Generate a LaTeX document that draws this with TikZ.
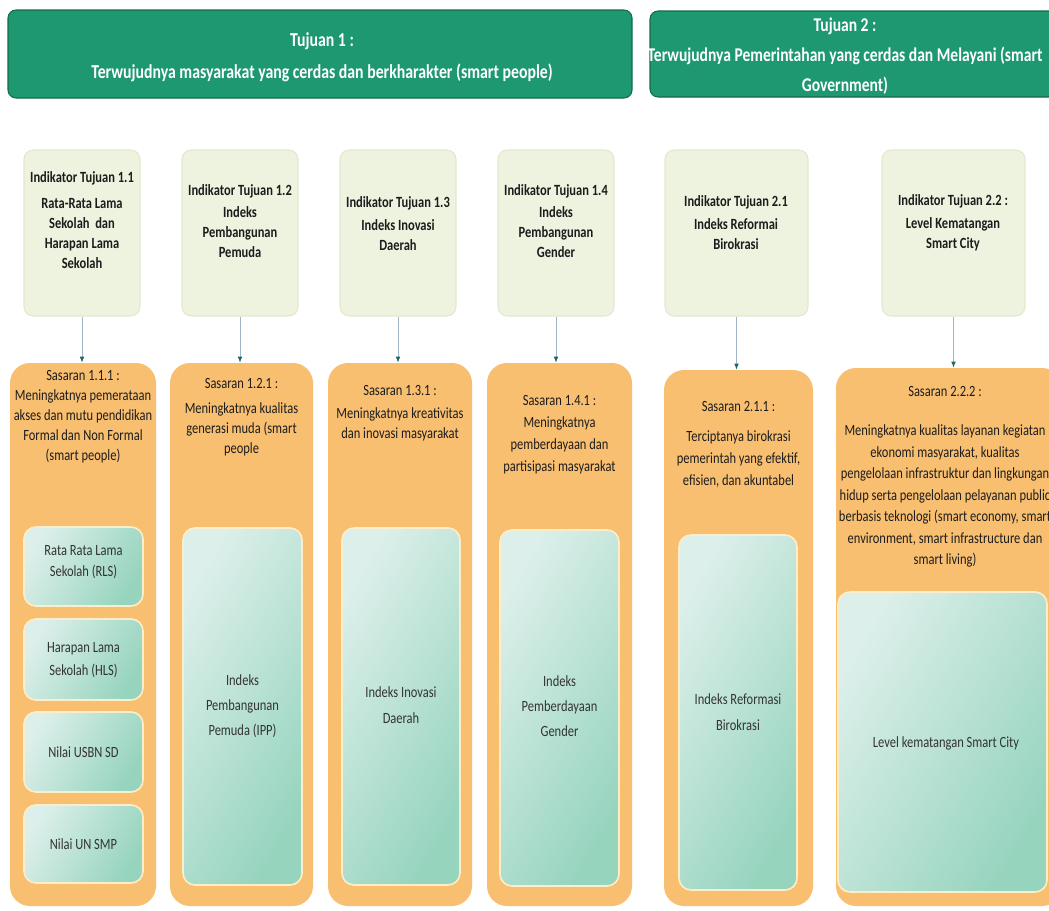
\documentclass[tikz,border=0pt]{standalone}
\usepackage{fontspec}
\setmainfont{Carlito}[FakeStretch=0.8]
\usetikzlibrary{arrows.meta,fit}
\definecolor{hdr}{RGB}{30,152,113}
\definecolor{hdrdark}{RGB}{20,105,78}
\definecolor{indfill}{RGB}{238,243,224}
\definecolor{indedge}{RGB}{226,233,206}
\definecolor{orgfill}{RGB}{249,191,113}
\definecolor{mintL}{RGB}{220,239,234}
\definecolor{mintD}{RGB}{150,212,190}
\definecolor{mintedge}{RGB}{252,238,200}
\definecolor{connline}{RGB}{160,182,198}
\definecolor{conntip}{RGB}{30,105,100}
\definecolor{txtdark}{RGB}{28,28,28}
\begin{document}
\begin{tikzpicture}[x=0.75pt,y=-0.75pt,
  hdrbox/.style={inner sep=0pt, rounded corners=6pt, fill=hdr, draw=hdrdark, line width=0.8pt},
  hdrtxt/.style={align=center, text=white, font=\bfseries\fontsize{14.8}{24}\selectfont, inner sep=0pt},
  indbox/.style={inner sep=0pt, rounded corners=7pt, fill=indfill, draw=indedge, line width=0.8pt},
  indtxt/.style={align=center, text=txtdark, font=\bfseries\fontsize{11.7}{15}\selectfont, inner sep=0pt},
  sasbox/.style={inner sep=0pt, rounded corners=15pt, fill=orgfill},
  sastxt/.style={align=center, text=txtdark, font=\fontsize{11.7}{15}\selectfont, inner sep=0pt},
  innbox/.style={inner sep=0pt, rounded corners=9pt, draw=mintedge, line width=1.2pt,
                 top color=mintL, bottom color=mintD, shading angle=60},
  inntxt/.style={align=center, text=txtdark!90, font=\fontsize{11.7}{17}\selectfont, inner sep=0pt},
  conn/.style={draw=connline, line width=0.7pt, -{Latex[length=4.5pt,width=3.5pt,color=conntip]}}
]
\clip (0,0) rectangle (1049,910);
\fill[white] (0,0) rectangle (1049,910);

% ---------- headers ----------
\node[hdrbox, fit={(8,10)(632,98)}] (h1) {};
\node[hdrtxt] (h1t) at (322,57) {Tujuan 1 :\\Terwujudnya masyarakat yang cerdas dan berkharakter (smart people)};
\node[hdrbox, fit={(650,11)(1062,97)}] (h2) {};
\node[hdrtxt, font=\bfseries\fontsize{14.6}{22.5}\selectfont] (h2t) at (845,56) {Tujuan 2 :\\Terwujudnya Pemerintahan yang cerdas dan Melayani (smart\\Government)};

% ---------- indicators ----------
\node[indbox, fit={(24,150)(140,316)}] (i11) {};
\node[indtxt] (i11t) at (82,220) {Indikator Tujuan 1.1\\[4.5pt]Rata-Rata Lama\\Sekolah~ dan\\Harapan Lama\\Sekolah};
\node[indbox, fit={(182,150)(298,316)}] (i12) {};
\node[indtxt] (i12t) at (240,221) {Indikator Tujuan 1.2\\[1.5pt]Indeks\\Pembangunan\\Pemuda};
\node[indbox, fit={(340,150)(456,316)}] (i13) {};
\node[indtxt] (i13t) at (398,223.5) {Indikator Tujuan 1.3\\[2.25pt]Indeks Inovasi\\Daerah};
\node[indbox, fit={(498,150)(614,316)}] (i14) {};
\node[indtxt] (i14t) at (556,221) {Indikator Tujuan 1.4\\[1.5pt]Indeks\\Pembangunan\\Gender};
\node[indbox, fit={(665,150)(808,316)}] (i21) {};
\node[indtxt] (i21t) at (736,223) {Indikator Tujuan 2.1\\[2.25pt]Indeks Reformai\\Birokrasi};
\node[indbox, fit={(882,150)(1025,316)}] (i22) {};
\node[indtxt] (i22t) at (953,223) {Indikator Tujuan 2.2 :\\[2.25pt]Level Kematangan\\Smart City};

% ---------- sasaran ----------
\node[sasbox, fit={(10,363)(156,906)}] (s11) {};
\node[sastxt] (s11t) at (83,417) {Sasaran 1.1.1 :\\Meningkatnya pemerataan\\akses dan mutu pendidikan\\Formal dan Non Formal\\(smart people)};
\node[sasbox, fit={(170,363)(313,906)}] (s12) {};
\node[sastxt] (s12t) at (241.5,417.5) {Sasaran 1.2.1 :\\[3.75pt]Meningkatnya kualitas\\generasi muda (smart\\people};
\node[sasbox, fit={(328,363)(472,906)}] (s13) {};
\node[sastxt] (s13t) at (400,413.5) {Sasaran 1.3.1 :\\[2.25pt]Meningkatnya kreativitas\\dan inovasi masyarakat};
\node[sasbox, fit={(487,363)(632,906)}] (s14) {};
\node[sastxt, font=\fontsize{11.7}{16.5}\selectfont] (s14t) at (559.5,435) {Sasaran 1.4.1 :\\Meningkatnya\\pemberdayaan dan\\partisipasi masyarakat};
\node[sasbox, fit={(664,370)(813,906)}] (s21) {};
\node[sastxt, font=\fontsize{11.7}{16.5}\selectfont] (s21t) at (738.5,444) {Sasaran 2.1.1 :\\[6pt]Terciptanya birokrasi\\pemerintah yang efektif,\\efisien, dan akuntabel};
\node[sasbox, fit={(836,368)(1062,906)}] (s22) {};
\node[sastxt, font=\fontsize{11.7}{16.1}\selectfont] (s22t) at (945,477) {Sasaran 2.2.2 :\\[13pt]Meningkatnya kualitas layanan kegiatan\\ekonomi masyarakat, kualitas\\pengelolaan infrastruktur dan lingkungan\\hidup serta pengelolaan pelayanan public\\berbasis teknologi (smart economy, smart\\environment, smart infrastructure dan\\smart living)};

% ---------- inner boxes ----------
\node[innbox, fit={(24,527)(143,606)}] (n1) {};
\node[inntxt, font=\fontsize{11.7}{16}\selectfont] (n1t) at (83.5,562) {Rata Rata Lama\\Sekolah (RLS)};
\node[innbox, fit={(24,619)(143,700)}] (n2) {};
\node[inntxt] (n2t) at (83.5,660) {Harapan Lama\\Sekolah (HLS)};
\node[innbox, fit={(24,712)(143,792)}] (n3) {};
\node[inntxt] (n3t) at (83.5,752) {Nilai USBN SD};
\node[innbox, fit={(24,805)(143,883)}] (n4) {};
\node[inntxt] (n4t) at (83.5,844) {Nilai UN SMP};
\node[innbox, fit={(183,528)(302,885)}] (n5) {};
\node[inntxt, font=\fontsize{11.7}{19}\selectfont] (n5t) at (242.5,706) {Indeks\\Pembangunan\\Pemuda (IPP)};
\node[innbox, fit={(342,528)(460,885)}] (n6) {};
\node[inntxt, font=\fontsize{11.7}{19}\selectfont] (n6t) at (401,705) {Indeks Inovasi\\Daerah};
\node[innbox, fit={(500,530)(619,886)}] (n7) {};
\node[inntxt, font=\fontsize{11.7}{19}\selectfont] (n7t) at (559.5,706) {Indeks\\Pemberdayaan\\Gender};
\node[innbox, fit={(679,535)(797,890)}] (n8) {};
\node[inntxt, font=\fontsize{11.7}{19}\selectfont] (n8t) at (738,712) {Indeks Reformasi\\Birokrasi};
\node[innbox, fit={(838,592)(1047,892)}] (n9) {};
\node[inntxt] (n9t) at (946,743) {Level kematangan Smart City};

% ---------- connectors ----------
\draw[conn] (i11.south) -- (i11.south |- s11.north);
\draw[conn] (i12.south) -- (i12.south |- s12.north);
\draw[conn] (i13.south) -- (i13.south |- s13.north);
\draw[conn] (i14.south) -- (i14.south |- s14.north);
\draw[conn] (i21.south) -- (i21.south |- s21.north);
\draw[conn] (i22.south) -- (i22.south |- s22.north);
\end{tikzpicture}
\end{document}
